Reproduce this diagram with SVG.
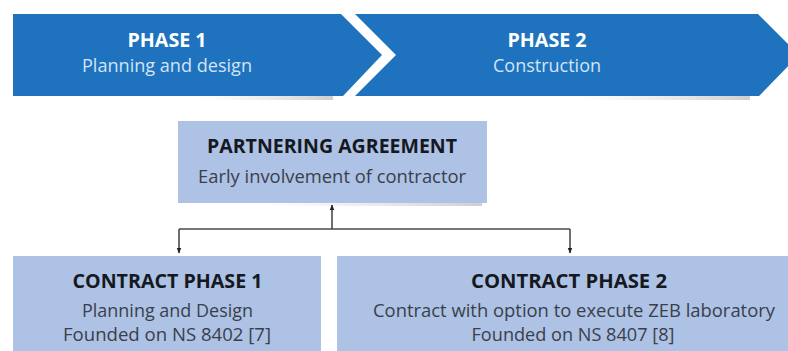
<svg xmlns="http://www.w3.org/2000/svg" width="788" height="351" viewBox="0 0 788 351">
<defs>
<style>
.phase{fill:#1f73be}
.box{fill:#adc2e4}
.t{font-family:"Open Sans","Noto Sans","Liberation Sans",sans-serif;text-anchor:middle}
.pt{font-size:19.5px;font-weight:bold;fill:#ffffff}
.ps{font-size:18.5px;fill:#d3e4f5}
.bt{font-size:19.5px;font-weight:bold;fill:#16181f}
.bs{font-size:18.5px;fill:#3a3f4c}
.conn{fill:none;stroke:#4a4a4a;stroke-width:1.6}
</style>
<marker id="arr" viewBox="0 0 10 10" refX="9" refY="5" markerWidth="6" markerHeight="6" markerUnits="userSpaceOnUse" orient="auto">
<path d="M0,1 L10,5 L0,9 z" fill="#222"/>
</marker>
<linearGradient id="shg" x1="0" x2="1" y1="0" y2="0">
<stop offset="0" stop-color="#e0e0e0" stop-opacity="0"/>
<stop offset="1" stop-color="#cfcfcf"/>
</linearGradient>
</defs>
<rect width="788" height="351" fill="#ffffff"/>
<g id="phase1">
<rect x="200" y="96" width="133" height="4" fill="url(#shg)"/>
<polygon class="phase" points="13,14 341,14 382,55 343,96 13,96"/>
<text class="t pt" x="167" y="47" textLength="79" lengthAdjust="spacingAndGlyphs">PHASE 1</text>
<text class="t ps" x="167" y="72" textLength="170" lengthAdjust="spacingAndGlyphs">Planning and design</text>
</g>
<g id="phase2">
<rect x="580" y="96" width="170" height="4" fill="url(#shg)"/>
<polygon class="phase" points="355,14 758,14 799,55 759,96 355,96 396,55"/>
<text class="t pt" x="547" y="47" textLength="79" lengthAdjust="spacingAndGlyphs">PHASE 2</text>
<text class="t ps" x="547" y="72" textLength="108" lengthAdjust="spacingAndGlyphs">Construction</text>
</g>
<g id="partnering">
<rect x="260" y="203" width="222" height="3" fill="url(#shg)"/>
<rect class="box" x="178" y="121" width="309" height="82"/>
<text class="t bt" x="332" y="153" textLength="250" lengthAdjust="spacingAndGlyphs">PARTNERING AGREEMENT</text>
<text class="t bs" x="332" y="183" textLength="268" lengthAdjust="spacingAndGlyphs">Early involvement of contractor</text>
</g>
<g id="contract1">
<rect class="box" x="13" y="256" width="308" height="100"/>
<text class="t bt" x="167.5" y="288" textLength="190" lengthAdjust="spacingAndGlyphs">CONTRACT PHASE 1</text>
<text class="t bs" x="167.5" y="317" textLength="171" lengthAdjust="spacingAndGlyphs">Planning and Design</text>
<text class="t bs" x="167" y="341" textLength="208" lengthAdjust="spacingAndGlyphs">Founded on NS 8402 [7]</text>
</g>
<g id="contract2">
<rect class="box" x="337" y="256" width="460" height="100"/>
<text class="t bt" x="569" y="288" textLength="196" lengthAdjust="spacingAndGlyphs">CONTRACT PHASE 2</text>
<text class="t bs" x="574" y="317" textLength="402" lengthAdjust="spacingAndGlyphs">Contract with option to execute ZEB laboratory</text>
<text class="t bs" x="573" y="341" textLength="203" lengthAdjust="spacingAndGlyphs">Founded on NS 8407 [8]</text>
</g>
<g id="connectors">
<path class="conn" d="M332,229 L332,205" marker-end="url(#arr)"/>
<path class="conn" d="M179,229 L570,229"/>
<path class="conn" d="M179,229 L179,253" marker-end="url(#arr)"/>
<path class="conn" d="M570,229 L570,253" marker-end="url(#arr)"/>
</g>
</svg>
